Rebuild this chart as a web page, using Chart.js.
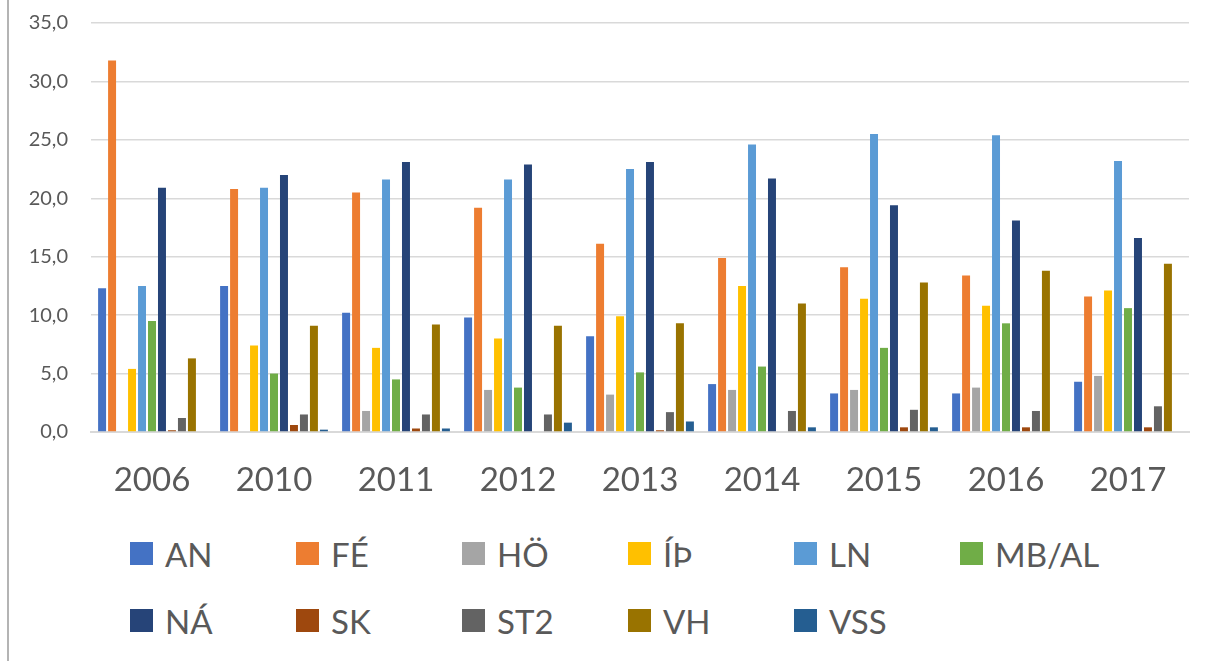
<!DOCTYPE html>
<html>
<head>
<meta charset="utf-8">
<script src="https://cdn.jsdelivr.net/npm/chart.js@4.4.1/dist/chart.umd.min.js"></script>
<style>
  html, body { margin: 0; padding: 0; background: #fff; }
  #wrap { position: relative; width: 1214px; height: 661px; overflow: hidden; }
  #frame { position: absolute; left: 7px; top: 0; width: 2px; height: 661px; background: #b4b4b4; }
  #chart { position: absolute; left: 0; top: 0; }
  #legend {
    position: absolute; left: 130px; top: 520px;
    display: grid; grid-template-columns: repeat(6, 166px); grid-auto-rows: 67px;
    font-family: Lato, "Open Sans", sans-serif; font-size: 33px; color: #595959;
  }
  #legend .item { display: flex; align-items: center; }
  #legend .box { width: 23px; height: 23px; margin-right: 12px; flex: none; }
</style>
</head>
<body>
<div id="wrap">
  <div id="frame"></div>
  <canvas id="chart" width="1214" height="520"></canvas>
  <div id="legend"></div>
</div>
<script>
// Data
const years = ['2006', '2010', '2011', '2012', '2013', '2014', '2015', '2016', '2017'];
const seriesNames = ['AN', 'FÉ', 'HÖ', 'ÍÞ', 'LN', 'MB/AL', 'NÁ', 'SK', 'ST2', 'VH', 'VSS'];
const seriesColors = ['#4472C4', '#ED7D31', '#A5A5A5', '#FFC000', '#5B9BD5', '#70AD47',
                      '#264478', '#9E480E', '#636363', '#997300', '#255E91'];

const AN   = [12.3, 12.5, 10.2, 9.8, 8.2, 4.1, 3.3, 3.3, 4.3];
const FE   = [31.8, 20.8, 20.5, 19.2, 16.1, 14.9, 14.1, 13.4, 11.6];
const HO   = [null, null, 1.8, 3.6, 3.2, 3.6, 3.6, 3.8, 4.8];
const ITH  = [5.4, 7.4, 7.2, 8.0, 9.9, 12.5, 11.4, 10.8, 12.1];
const LN   = [12.5, 20.9, 21.6, 21.6, 22.5, 24.6, 25.5, 25.4, 23.2];
const MBAL = [9.5, 5.0, 4.5, 3.8, 5.1, 5.6, 7.2, 9.3, 10.6];
const NA   = [20.9, 22.0, 23.1, 22.9, 23.1, 21.7, 19.4, 18.1, 16.6];
const SK   = [0.15, 0.6, 0.3, null, 0.15, null, 0.4, 0.4, 0.4];
const ST2  = [1.2, 1.5, 1.5, 1.5, 1.7, 1.8, 1.9, 1.8, 2.2];
const VH   = [6.3, 9.1, 9.2, 9.1, 9.3, 11.0, 12.8, 13.8, 14.4];
const VSS  = [null, 0.2, 0.3, 0.8, 0.9, 0.4, 0.4, null, null];

const seriesValues = [AN, FE, HO, ITH, LN, MBAL, NA, SK, ST2, VH, VSS];

const yMin = 0, yMax = 35, yStep = 5;

// Chart
const textColor = '#595959';
const gridColor = '#d9d9d9';

const datasets = seriesNames.map((name, i) => ({
    label: name,
    data: seriesValues[i],
    backgroundColor: seriesColors[i],
    borderWidth: 0,
    barPercentage: 0.8,
    categoryPercentage: 0.9
}));

const ctx = document.getElementById('chart').getContext('2d');
const chart = new Chart(ctx, {
    type: 'bar',
    data: { labels: years, datasets: datasets },
    options: {
        responsive: false,
        animation: false,
        devicePixelRatio: 1,
        layout: { padding: { top: 23, right: 25, left: 0, bottom: 0 } },
        plugins: {
            legend: { display: false },
            tooltip: { enabled: false }
        },
        scales: {
            x: {
                grid: { display: false, drawTicks: false },
                border: { display: true, color: gridColor, width: 2 },
                ticks: {
                    color: textColor, padding: 29,
                    font: { family: 'Lato, "Open Sans", sans-serif', size: 33 }
                },
                afterFit: (scale) => { scale.height = 88; scale.paddingLeft = 0; scale.paddingRight = 0; }
            },
            y: {
                min: yMin, max: yMax,
                grid: { color: gridColor, lineWidth: 1.5, drawTicks: false },
                border: { display: false },
                ticks: {
                    stepSize: yStep, color: textColor, padding: 23,
                    font: { family: 'Lato, "Open Sans", sans-serif', size: 20 },
                    callback: (v) => v.toFixed(1).replace('.', ',')
                },
                afterFit: (scale) => { scale.width = 91; scale.paddingTop = 0; scale.paddingBottom = 0; }
            }
        }
    }
});

// HTML legend laid out in fixed columns like the original
const legendEl = document.getElementById('legend');
chart.options.plugins.legend.labels.generateLabels(chart).forEach(item => {
    const div = document.createElement('div');
    div.className = 'item';
    div.innerHTML = `<span class="box" style="background:${item.fillStyle}"></span><span>${item.text}</span>`;
    legendEl.appendChild(div);
});
</script>
</body>
</html>
